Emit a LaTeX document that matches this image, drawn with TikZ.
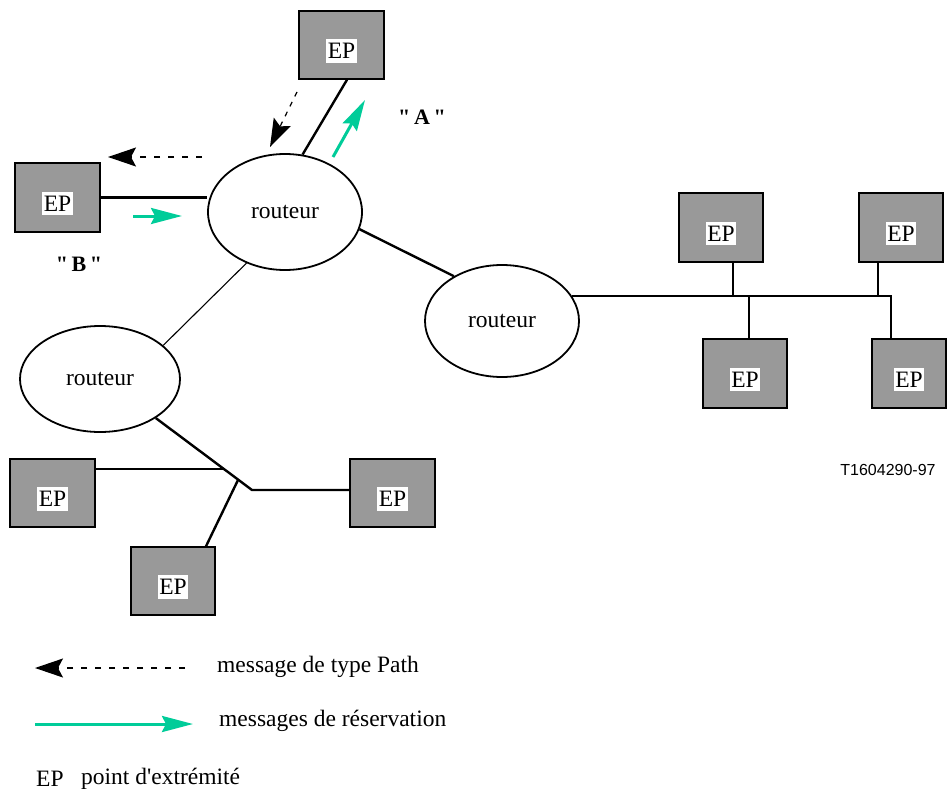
\documentclass[tikz,border=0pt]{standalone}
\usepackage{fontspec}
\setmainfont{Liberation Serif}
\newfontfamily\arialfont{Liberation Sans}
\usetikzlibrary{arrows.meta,shapes.geometric,calc}
\definecolor{epgray}{RGB}{153,153,153}
\definecolor{resv}{RGB}{0,204,153}
\begin{document}
\begin{tikzpicture}[x=1pt,y=-1pt,
  every node/.append style={font=\fontsize{23.5}{28}\selectfont},
  epbox/.style={draw=black,line width=1.5pt,fill=epgray,minimum width=85pt,minimum height=68pt,inner sep=0pt,
     label={[fill=white,inner xsep=1.5pt,inner ysep=4pt,yshift=-6pt]center:EP}},
  router/.style={ellipse,draw=black,line width=1.8pt,inner sep=0pt},
  wire/.style={line width=2.4pt},
  thinwire/.style={line width=1.1pt},
  pathmsg/.style={line width=1.2pt,dash pattern=on 6pt off 8pt,-{Stealth[length=28pt,width=19pt,inset=5pt]}},
  resvmsg/.style={draw=resv,line width=3pt,-{Stealth[length=31pt,width=16pt,inset=4pt,fill=resv]}},
  txt/.style={anchor=west,inner sep=0pt}
]
\useasboundingbox (0,0) rectangle (947,792);

% end points
\node[epbox] (epT) at (341.5,45) {};
\node[epbox,minimum height=69pt] (epL) at (57.5,197.5) {};
\node[epbox,minimum width=84pt,minimum height=69pt] (epR1) at (721,227.5) {};
\node[epbox,minimum width=84pt,minimum height=69pt] (epR2) at (901,227.5) {};
\node[epbox,minimum width=84pt,minimum height=69pt] (epR3) at (745,373.5) {};
\node[epbox,minimum width=74pt,minimum height=69pt] (epR4) at (909,373.5) {};
\node[epbox] (epBL1) at (52.5,493) {};
\node[epbox] (epBL3) at (392.5,493) {};
\node[epbox,minimum width=84pt] (epBL2) at (173,581) {};

% routers
\node[router,minimum width=154pt,minimum height=116pt] (r1) at (285,212) {routeur};
\node[router,minimum width=154pt,minimum height=112pt] (r2) at (502,321) {routeur};
\node[router,minimum width=160pt,minimum height=106pt] (r3) at (100,379) {routeur};

% links
\draw[wire] (epL.east) -- (epL.east -| r1.west);
\draw[wire] ($(epT.south)+(5.5,0)$) -- (r1.73);
\draw[thinwire] (r1.233) -- (r3.28);
\draw[wire] (r1.-13) -- (r2.137);

\coordinate (busR) at (891,296);
\draw[wire] (r2.20 |- busR) -- (busR) -- (busR |- epR4.north);
\coordinate (s1) at ($(epR1.south)+(12,0)$);
\coordinate (s2) at ($(epR2.south)+(-23,0)$);
\coordinate (s3) at ($(epR3.north)+(4,0)$);
\draw[wire] (s1) -- (s1 |- busR);
\draw[wire] (s2) -- (s2 |- busR);
\draw[wire] (s3) -- (s3 |- busR);

\coordinate (j) at (252,490);
\draw[wire] (r3.-35) -- (j) -- (j -| epBL3.west);
\coordinate (k1) at (223.5,469);
\draw[wire] (k1 -| epBL1.east) -- (k1);
\coordinate (k2) at (238,480);
\coordinate (k3) at ($(epBL2.north)+(33,0)$);
\draw[wire] (k3) -- (k2);

% messages
\coordinate (pT1) at (297,92); \coordinate (pT2) at (270,147);
\draw[pathmsg,dash pattern=on 5pt off 6pt] (pT1) -- (pT2);
\coordinate (gT1) at (333,157); \coordinate (gT2) at (365,100);
\draw[resvmsg] (gT1) -- (gT2);
\coordinate (pL1) at (202,157); \coordinate (pL2) at (108,157);
\draw[pathmsg] (pL1) -- (pL2);
\coordinate (gL1) at (133,216); \coordinate (gL2) at (182,216);
\draw[resvmsg] (gL1) -- (gL2);

\node[font=\fontsize{22}{26}\bfseries] (labA) at (422,117) {\textquotedbl\,A\,\textquotedbl};
\node[font=\fontsize{22}{26}\bfseries] (labB) at (79,264) {\textquotedbl\,B\,\textquotedbl};
\node[font=\fontsize{16}{19}\arialfont] (code) at (888,470) {T1604290-97};

% legend
\coordinate (lp1) at (185,668); \coordinate (lp2) at (35,668);
\draw[pathmsg] (lp1) -- (lp2);
\node[txt] (lt1) at (217,667) {message de type Path};
\coordinate (lg1) at (35,724); \coordinate (lg2) at (193,724);
\draw[resvmsg] (lg1) -- (lg2);
\node[txt] (lt2) at (219,721) {messages de réservation};
\node[txt] (lt3) at (36,779) {EP};
\node[txt] (lt4) at (81,779) {point d\textquotesingle extrémité};
\end{tikzpicture}
\end{document}
